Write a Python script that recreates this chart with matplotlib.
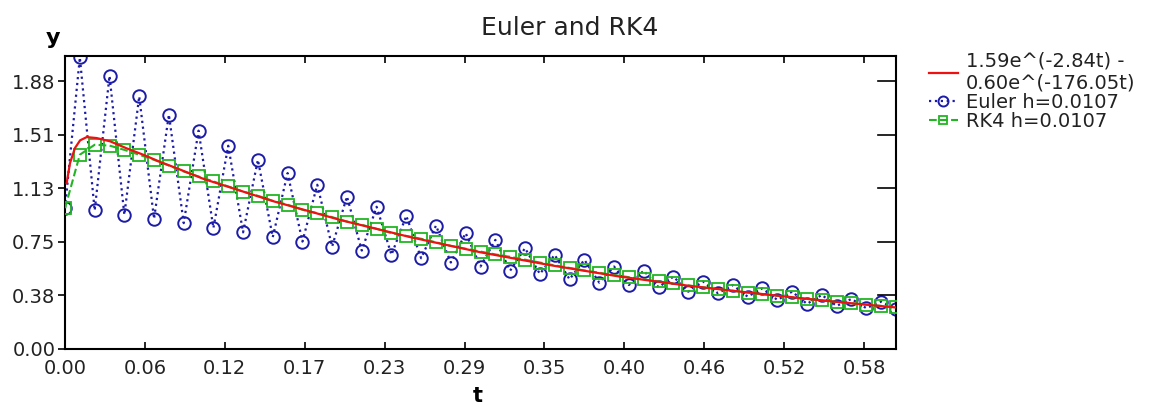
import matplotlib
matplotlib.use("Agg")
import matplotlib.pyplot as plt
import numpy as np

plt.rcParams['font.family'] = ['DejaVu Sans']

# step size and read-off values
h = 0.6 / 56
euler_y = [0.99, 2.05, 0.974, 1.92, 0.943, 1.776, 0.915, 1.648, 0.885, 1.535,
           0.85, 1.429, 0.82, 1.33, 0.786, 1.237, 0.755, 1.155, 0.72, 1.072,
           0.692, 1.00, 0.662, 0.936, 0.638, 0.868, 0.608, 0.815, 0.58, 0.767,
           0.551, 0.709, 0.528, 0.662, 0.49, 0.627, 0.467, 0.58, 0.45, 0.551,
           0.434, 0.509, 0.403, 0.474, 0.392, 0.45, 0.368, 0.427, 0.345, 0.403,
           0.317, 0.38, 0.303, 0.352, 0.287, 0.333, 0.28]
rk4_y = [0.99, 1.366, 1.436, 1.43, 1.40, 1.366, 1.33, 1.29, 1.248, 1.213,
         1.178, 1.143, 1.107, 1.077, 1.042, 1.014, 0.979, 0.955, 0.927, 0.896,
         0.873, 0.845, 0.815, 0.795, 0.775, 0.750, 0.725, 0.705, 0.685, 0.665,
         0.648, 0.628, 0.608, 0.588, 0.570, 0.552, 0.536, 0.520, 0.505, 0.490,
         0.475, 0.461, 0.447, 0.434, 0.421, 0.409, 0.397, 0.385, 0.374, 0.363,
         0.352, 0.342, 0.332, 0.322, 0.312, 0.303, 0.294]
exact_t = [0.0012, 0.0036, 0.0072, 0.0109, 0.0157, 0.0229, 0.0326, 0.0447,
           0.0567, 0.0688, 0.0809, 0.10, 0.15, 0.20, 0.25, 0.30, 0.35, 0.40,
           0.45, 0.50, 0.55, 0.60]
exact_y = [1.166, 1.307, 1.413, 1.467, 1.49, 1.483, 1.46, 1.41, 1.365, 1.315,
           1.27, 1.196, 1.040, 0.904, 0.785, 0.68, 0.59, 0.51, 0.445, 0.39,
           0.338, 0.292]

exact_label = "1.59e^(-2.84t) -\n0.60e^(-176.05t)"
euler_label = "Euler h=0.0107"
rk4_label = "RK4 h=0.0107"

t = np.arange(len(euler_y)) * h

fig = plt.figure(figsize=(11.57, 4.05), dpi=100)
ax = fig.add_axes([65 / 1157, 56 / 405, 831 / 1157, 293 / 405])

l_euler, = ax.plot(t, euler_y, ':', color='#1c1ca8', lw=1.6, marker='o',
                   markersize=9, markerfacecolor='none', markeredgewidth=1.4,
                   zorder=2)
l_rk4, = ax.plot(t, rk4_y, '--', color='#22b522', lw=1.5, marker='s',
                 markersize=8, markerfacecolor='none', markeredgewidth=1.3,
                 zorder=3)
l_exact, = ax.plot(exact_t, exact_y, '-', color='#ee1111', lw=1.6, zorder=4)

ax.set_xlim(0, 0.6)
ax.set_ylim(0, 2.06)

xt = np.arange(11) * 0.0577
yt = np.arange(6) * 0.3765
ax.set_xticks(xt)
ax.set_xticklabels([f"{v:.2f}" for v in xt])
ax.set_yticks(yt)
ax.set_yticklabels([f"{v:.2f}" for v in yt])
ax.tick_params(axis='both', labelsize=14, width=1.2, length=5,
               labelcolor='#222222')
ax.tick_params(axis='x', direction='in', top=True, pad=7)
ax.tick_params(axis='y', direction='out', right=False, pad=2)
# right-hand ticks point inward
for v in yt:
    ax.plot([0.587, 0.6], [v, v], color='black', lw=1.2, clip_on=False, zorder=5)
for s in ax.spines.values():
    s.set_linewidth(1.5)

fig.text(570 / 1157, 1 - 28 / 405, "Euler and RK4", ha='center', va='center',
         fontsize=18, color='#222222')
fig.text(53 / 1157, 1 - 38 / 405, "y", ha='center', va='center',
         fontsize=16, fontweight='bold')
fig.text(478 / 1157, 1 - 386 / 405, "t", ha='center', va='top',
         fontsize=15, fontweight='bold')

fig.legend([l_exact, l_euler, l_rk4], [exact_label, euler_label, rk4_label],
           loc='upper left', bbox_to_anchor=(919 / 1157, 1 - 42 / 405),
           frameon=False, fontsize=14, handlelength=1.5, handletextpad=0.4,
           labelspacing=0.0, borderpad=0, markerscale=0.8,
           labelcolor='#222222')

fig.savefig("out.png", dpi=100)
